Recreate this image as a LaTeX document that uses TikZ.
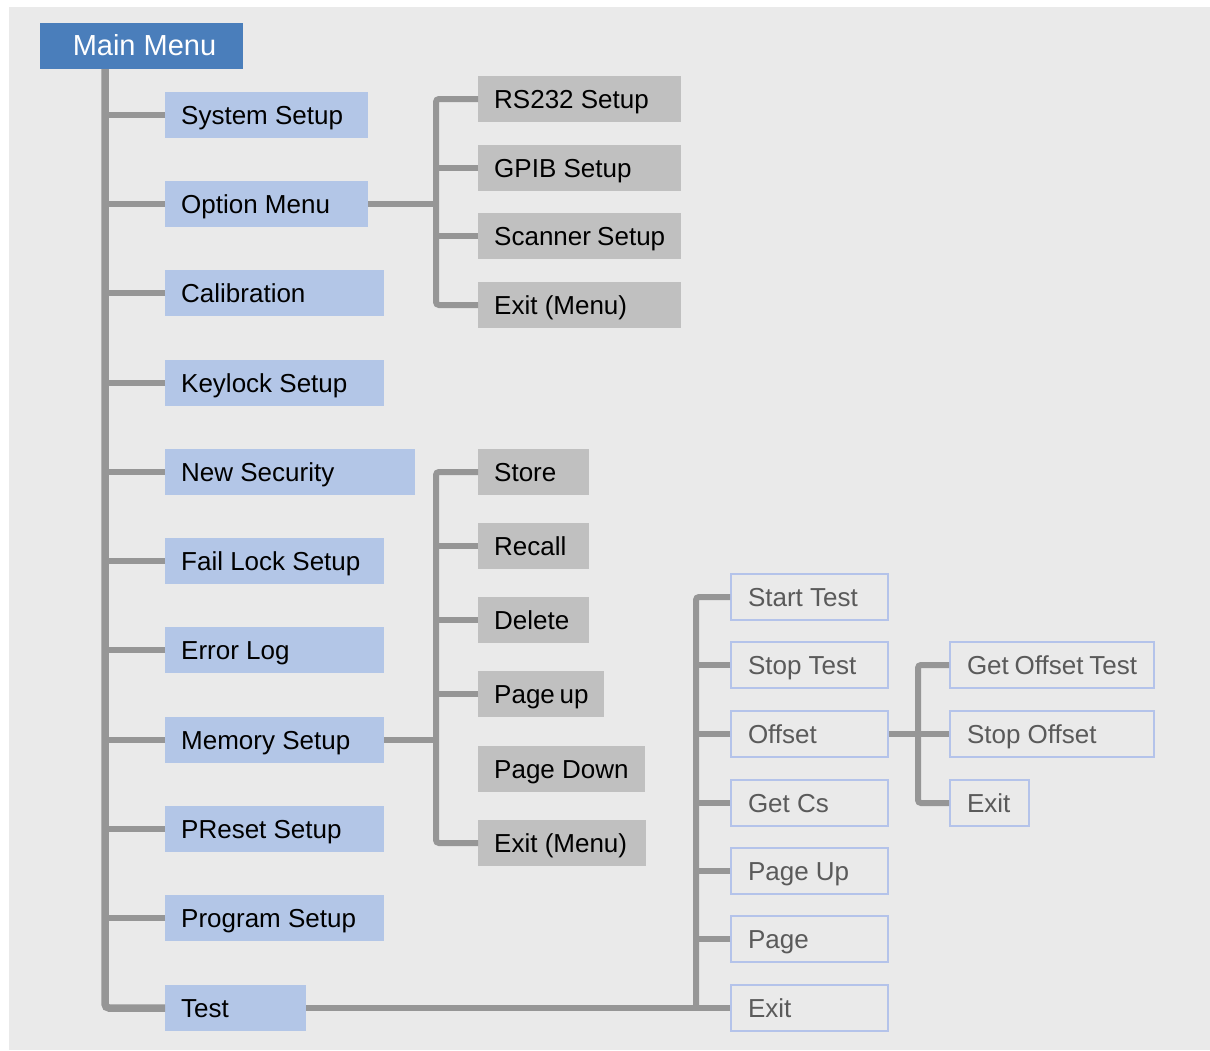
\documentclass[tikz,border=0pt]{standalone}
\usepackage{fontspec}
\setmainfont{Liberation Sans}
\definecolor{bgc}{HTML}{EAEAEA}
\definecolor{mainc}{HTML}{4A7EBB}
\definecolor{lonec}{HTML}{B3C6E7}
\definecolor{grayc}{HTML}{C0C0C0}
\definecolor{linec}{HTML}{969696}
\definecolor{outc}{HTML}{B4C3EA}
\definecolor{outtext}{HTML}{5A5A5A}
\begin{document}
\begin{tikzpicture}[x=1pt,y=-1pt,
  txt/.style={font=\fontsize{26pt}{30pt}\selectfont, anchor=west, minimum height=46pt,
    inner ysep=0pt, text height=24pt, text depth=6pt},
  fixw/.style={execute at begin node={\hbox to #1\bgroup}, execute at end node={\hfil\egroup}},
  lone/.style={txt, fill=lonec, text=black, inner xsep=16pt, fixw=#1},
  gbox/.style={txt, fill=grayc, text=black, inner xsep=16pt, fixw=#1},
  obox/.style={txt, draw=outc, line width=2pt, text=outtext, inner xsep=17pt, fixw=#1},
  trunk/.style={draw=linec, line width=7.5pt, rounded corners=4pt},
  br/.style={draw=linec, line width=6pt},
  brr/.style={draw=linec, line width=6pt, rounded corners=3pt}]
\useasboundingbox (0,0) rectangle (1210,1050);
\fill[bgc] (9,7) rectangle (1210,1050);

% main
\node[fill=mainc, text=white, font=\fontsize{29pt}{33pt}\selectfont, minimum width=203pt,
  minimum height=46pt, inner sep=0pt, text height=25pt, text depth=6pt] (main) at (141.5,46) {\hspace{6pt}Main Menu};

% level 1
\node[lone=171pt] (ss) at (165,115) {System Setup};
\node[lone=171pt] (om) at (165,204) {Option Menu};
\node[lone=187pt] (cal) at (165,293) {Calibration};
\node[lone=187pt] (kl) at (165,383) {Keylock Setup};
\node[lone=218pt] (ns) at (165,472) {New Security};
\node[lone=187pt] (fl) at (165,561) {Fail Lock Setup};
\node[lone=187pt] (el) at (165,650) {Error Log};
\node[lone=187pt] (ms) at (165,740) {Memory Setup};
\node[lone=187pt] (ps) at (165,829) {PReset Setup};
\node[lone=187pt] (pg) at (165,918) {Program Setup};
\node[lone=109pt] (ts) at (165,1008) {Test};

% option sub
\node[gbox=171pt] (rs) at (478,99) {RS232 Setup};
\node[gbox=171pt] (gp) at (478,168) {GPIB Setup};
\node[gbox=171pt] (sc) at (478,236) {Scanner Setup};
\node[gbox=171pt] (exa) at (478,305) {Exit (Menu)};

% memory sub
\node[gbox=79pt] (st) at (478,472) {Store};
\node[gbox=79pt] (rc) at (478,546) {Recall};
\node[gbox=79pt] (de) at (478,620) {Delete};
\node[gbox=94pt] (pu) at (478,694) {Page up};
\node[gbox=135pt] (pd) at (478,769) {Page Down};
\node[gbox=136pt] (exb) at (478,843) {Exit (Menu)};

% test sub
\node[obox=123pt] (sta) at (730,597) {Start Test};
\node[obox=123pt] (sto) at (730,665) {Stop Test};
\node[obox=123pt] (off) at (730,734) {Offset};
\node[obox=123pt] (gc) at (730,803) {Get Cs};
\node[obox=123pt] (pup) at (730,871) {Page Up};
\node[obox=123pt] (pa) at (730,939) {Page};
\node[obox=123pt] (exc) at (730,1008) {Exit};

% offset sub
\node[obox=170pt] (got) at (949,665) {Get Offset Test};
\node[obox=170pt] (so) at (949,734) {Stop Offset};
\node[obox=45pt] (exd) at (949,803) {Exit};

% connectors
\coordinate (tx) at (105,69);
\coordinate (ox) at (436,0);
\coordinate (tsx) at (696,0);
\coordinate (ofx) at (918,0);

\draw[trunk] (main.south -| tx) |- (ts.west);
\foreach \n in {ss,om,cal,kl,ns,fl,el,ms,ps,pg}
  \draw[br] (\n.west) -- (\n.west -| tx);

\draw[brr] (rs.west) -- (rs.west -| ox) -- (exa.west -| ox) -- (exa.west);
\foreach \n in {gp,sc} \draw[br] (\n.west) -- (\n.west -| ox);
\draw[br] (om.east) -- (om.east -| ox);

\draw[brr] (st.west) -- (st.west -| ox) -- (exb.west -| ox) -- (exb.west);
\foreach \n in {rc,de,pu} \draw[br] (\n.west) -- (\n.west -| ox);
\draw[br] (ms.east) -- (ms.east -| ox);

\draw[brr] (sta.west) -- (sta.west -| tsx) -- (exc.west -| tsx);
\foreach \n in {sto,off,gc,pup,pa} \draw[br] (\n.west) -- (\n.west -| tsx);
\draw[br] (ts.east) -- (exc.west);

\draw[brr] (got.west) -- (got.west -| ofx) -- (exd.west -| ofx) -- (exd.west);
\draw[br] (off.east) -- (so.west);
\end{tikzpicture}
\end{document}
